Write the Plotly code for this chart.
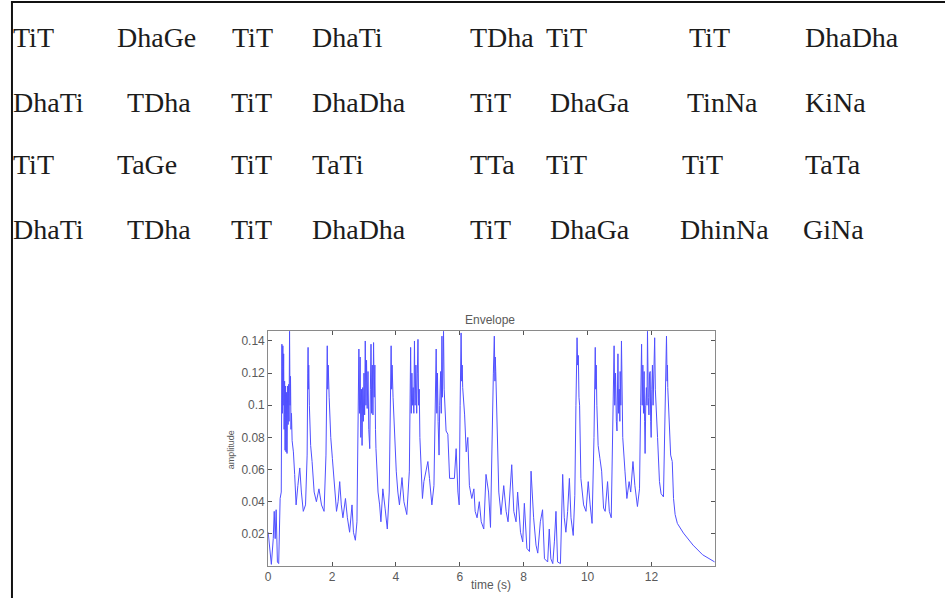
import plotly.graph_objects as go

# ---------------- data ----------------
bol_rows = [
    ["TiT", "DhaGe", "TiT", "DhaTi", "TDha", "TiT", "TiT", "DhaDha"],
    ["DhaTi", "TDha", "TiT", "DhaDha", "TiT", "DhaGa", "TinNa", "KiNa"],
    ["TiT", "TaGe", "TiT", "TaTi", "TTa", "TiT", "TiT", "TaTa"],
    ["DhaTi", "TDha", "TiT", "DhaDha", "TiT", "DhaGa", "DhinNa", "GiNa"],
]

time_s = [
    0.00, 0.05, 0.10, 0.16, 0.19, 0.22, 0.25, 0.29, 0.33, 0.375, 0.41,
    0.43, 0.445, 0.46, 0.47, 0.485, 0.50, 0.515, 0.53, 0.545, 0.56, 0.575, 0.59, 0.61, 0.625, 0.64, 0.655, 0.67, 0.685, 0.70, 0.715, 0.73, 0.75,
    0.79, 0.83, 0.875, 0.93, 0.99, 1.04, 1.10, 1.17, 1.22, 1.24, 1.25, 1.26, 1.27, 1.29,
    1.33, 1.375, 1.44, 1.51, 1.59, 1.67, 1.75, 1.81, 1.83, 1.85, 1.865, 1.88, 1.91,
    1.96, 2.01, 2.08, 2.14, 2.19, 2.24, 2.29, 2.34, 2.42, 2.48, 2.55, 2.625, 2.67, 2.73, 2.78, 2.81,
    2.84, 2.86, 2.88, 2.90, 2.92, 2.94, 2.96, 2.98, 3.00, 3.02, 3.04, 3.06, 3.08, 3.10, 3.125, 3.15, 3.18, 3.20, 3.22, 3.24, 3.26, 3.28, 3.30, 3.32, 3.34, 3.36, 3.375,
    3.44, 3.49, 3.53, 3.59, 3.66, 3.73, 3.79, 3.83, 3.85, 3.865, 3.88, 3.91,
    3.96, 4.01, 4.06, 4.11, 4.19, 4.25, 4.34, 4.42,
    4.46, 4.48, 4.50, 4.52, 4.54, 4.56, 4.58, 4.60, 4.625, 4.65, 4.67, 4.69, 4.71, 4.73, 4.75, 4.77,
    4.83, 4.875, 4.94, 5.00, 5.05, 5.125, 5.19,
    5.23, 5.26, 5.28, 5.30, 5.32, 5.35, 5.37, 5.40, 5.42, 5.44, 5.455, 5.47, 5.49, 5.51, 5.53, 5.55, 5.57,
    5.625, 5.68, 5.83, 5.885, 5.94, 5.98, 6.01, 6.03, 6.04, 6.06, 6.075, 6.09,
    6.15, 6.20, 6.25, 6.30, 6.375, 6.44, 6.48, 6.54, 6.61, 6.67, 6.75, 6.82, 6.90, 6.96, 7.01, 7.05, 7.08, 7.10, 7.11, 7.125,
    7.17, 7.22, 7.29, 7.375, 7.45, 7.51, 7.625, 7.69, 7.76, 7.81, 7.90, 7.97, 8.02, 8.10, 8.18, 8.23, 8.31, 8.385, 8.44, 8.52,
    8.59, 8.65, 8.75, 8.80, 8.85, 8.91, 8.96, 9.01, 9.06, 9.15, 9.22, 9.27, 9.32, 9.375, 9.43, 9.48, 9.55, 9.60, 9.635,
    9.65, 9.67, 9.69, 9.71, 9.73, 9.75, 9.79, 9.875, 9.95, 10.02, 10.08, 10.14, 10.20, 10.22, 10.24, 10.255, 10.27, 10.29,
    10.33, 10.385, 10.44, 10.50, 10.55, 10.625, 10.68, 10.74, 10.79,
    10.83, 10.85, 10.875, 10.90, 10.92, 10.95, 10.97, 10.99, 11.01, 11.02, 11.04, 11.06, 11.08, 11.10,
    11.17, 11.23, 11.30, 11.35, 11.42, 11.48, 11.56, 11.625,
    11.66, 11.69, 11.71, 11.73, 11.75, 11.77, 11.785, 11.80, 11.82, 11.84, 11.86, 11.875, 11.90, 11.92, 11.94, 11.96, 11.975, 11.99,
    12.01, 12.03, 12.05, 12.07, 12.10, 12.12, 12.15, 12.17, 12.19,
    12.25, 12.30, 12.375, 12.43, 12.45, 12.47, 12.49, 12.50, 12.51, 12.56, 12.60, 12.65, 12.69, 12.74, 12.81, 13.00, 13.30, 13.60, 13.80, 13.98,
]

amplitude = [
    0.021, 0.009, 0.001, 0.017, 0.034, 0.017, 0.035, 0.0025, 0.0015, 0.042, 0.046,
    0.138, 0.095, 0.137, 0.100, 0.132, 0.085, 0.115, 0.072, 0.112, 0.071, 0.108, 0.070, 0.112, 0.088, 0.113, 0.090, 0.146, 0.100, 0.118, 0.085, 0.095, 0.078,
    0.071, 0.057, 0.038, 0.050, 0.061, 0.046, 0.034, 0.038, 0.069, 0.120, 0.136, 0.110, 0.125, 0.100,
    0.075, 0.065, 0.046, 0.040, 0.048, 0.038, 0.034, 0.069, 0.120, 0.137, 0.110, 0.125, 0.105,
    0.080, 0.067, 0.046, 0.034, 0.040, 0.0525, 0.038, 0.030, 0.042, 0.030, 0.021, 0.038, 0.021, 0.016, 0.0275, 0.100,
    0.135, 0.095, 0.130, 0.080, 0.110, 0.075, 0.111, 0.090, 0.120, 0.094, 0.140, 0.100, 0.128, 0.098, 0.121, 0.085, 0.073, 0.110, 0.138, 0.095, 0.125, 0.094, 0.139, 0.105, 0.125, 0.085, 0.073,
    0.046, 0.038, 0.0275, 0.048, 0.036, 0.023, 0.046, 0.120, 0.137, 0.110, 0.125, 0.105,
    0.075, 0.059, 0.046, 0.038, 0.055, 0.040, 0.032, 0.059,
    0.136, 0.095, 0.120, 0.100, 0.111, 0.095, 0.140, 0.100, 0.125, 0.095, 0.120, 0.141, 0.100, 0.110, 0.080, 0.071,
    0.042, 0.0525, 0.059, 0.065, 0.0545, 0.038, 0.050,
    0.100, 0.135, 0.095, 0.120, 0.090, 0.069, 0.100, 0.121, 0.095, 0.143, 0.105, 0.125, 0.146, 0.110, 0.100, 0.088, 0.084,
    0.082, 0.0545, 0.0545, 0.073, 0.046, 0.038, 0.100, 0.135, 0.145, 0.115, 0.125, 0.111,
    0.094, 0.071, 0.080, 0.050, 0.042, 0.048, 0.034, 0.030, 0.040, 0.0275, 0.023, 0.057, 0.046, 0.024, 0.090, 0.120, 0.143, 0.115, 0.130, 0.121,
    0.080, 0.046, 0.032, 0.050, 0.034, 0.0275, 0.063, 0.034, 0.0275, 0.046, 0.021, 0.015, 0.039, 0.011, 0.009, 0.059, 0.030, 0.013, 0.008, 0.0275,
    0.035, 0.0045, 0.0025, 0.023, 0.0045, 0.0015, 0.015, 0.034, 0.0025, 0.0015, 0.057, 0.030, 0.021, 0.034, 0.0545, 0.030, 0.019, 0.044, 0.100,
    0.130, 0.142, 0.125, 0.131, 0.105, 0.100, 0.0545, 0.038, 0.034, 0.0525, 0.038, 0.0265, 0.080, 0.120, 0.136, 0.110, 0.125, 0.100,
    0.075, 0.067, 0.059, 0.036, 0.034, 0.0525, 0.034, 0.030, 0.080,
    0.137, 0.100, 0.120, 0.090, 0.084, 0.132, 0.095, 0.110, 0.090, 0.121, 0.100, 0.140, 0.100, 0.080,
    0.059, 0.042, 0.0525, 0.046, 0.065, 0.050, 0.037, 0.048,
    0.100, 0.138, 0.100, 0.125, 0.095, 0.121, 0.090, 0.070, 0.100, 0.111, 0.100, 0.146, 0.105, 0.094, 0.120, 0.121, 0.090, 0.080,
    0.110, 0.125, 0.100, 0.130, 0.142, 0.110, 0.100, 0.090, 0.080,
    0.0525, 0.045, 0.043, 0.100, 0.130, 0.143, 0.115, 0.125, 0.111, 0.084, 0.069, 0.065, 0.042, 0.032, 0.0265, 0.0205, 0.013, 0.007, 0.0045, 0.0025,
]
assert len(time_s) == len(amplitude)

x_tick_vals = [0, 2, 4, 6, 8, 10, 12]
x_tick_text = ["0", "2", "4", "6", "8", "10", "12"]
y_tick_vals = [0.02, 0.04, 0.06, 0.08, 0.10, 0.12, 0.14]
y_tick_text = ["0.02", "0.04", "0.06", "0.08", "0.1", "0.12", "0.14"]

# ---------------- layout constants ----------------
W, H = 945, 598
row_y_px = [38, 102, 165, 230]
row_x_px = [
    [8, 112, 228, 308, 466, 543, 686, 803],
    [8, 122, 227, 308, 466, 547, 684, 803],
    [8, 112, 227, 308, 466, 543, 679, 803],
    [8, 122, 227, 308, 466, 547, 677, 801],
]
plot_left, plot_right, plot_top, plot_bottom = 266, 714, 331, 566

fig = go.Figure()
fig.add_trace(go.Scatter(
    x=time_s, y=amplitude, mode="lines",
    line=dict(color="rgb(80,80,255)", width=1),
    showlegend=False, hoverinfo="skip",
))

annotations = []
for r, words in enumerate(bol_rows):
    for c, w in enumerate(words):
        annotations.append(dict(
            xref="paper", yref="paper",
            x=row_x_px[r][c] / W, y=1 - row_y_px[r] / H,
            xanchor="left", yanchor="middle", showarrow=False,
            text=w, font=dict(family="Liberation Serif", size=28, color="#1c1c1c"),
        ))

grey_font = dict(family="Liberation Sans", size=12, color="#5a5a5a")
annotations.append(dict(xref="paper", yref="paper", x=489 / W, y=1 - 320 / H,
                        text="Envelope", showarrow=False, xanchor="center",
                        yanchor="middle", font=grey_font))
annotations.append(dict(xref="paper", yref="paper", x=490 / W, y=1 - 585 / H,
                        text="time (s)", showarrow=False, xanchor="center",
                        yanchor="middle", font=grey_font))
annotations.append(dict(xref="paper", yref="paper", x=229 / W, y=1 - 450 / H,
                        text="amplitude", showarrow=False, textangle=-90,
                        xanchor="center", yanchor="middle",
                        font=dict(family="Liberation Sans", size=9, color="#5a5a5a")))

shapes = [
    dict(type="line", xref="paper", yref="paper", x0=8 / W, x1=1, y0=1 - 2 / H, y1=1 - 2 / H,
         line=dict(color="#111111", width=2)),
    dict(type="line", xref="paper", yref="paper", x0=9 / W, x1=9 / W, y0=0, y1=1 - 1 / H,
         line=dict(color="#111111", width=2)),
]

axis_common = dict(
    showline=True, linecolor="#8a8a8a", linewidth=1, mirror="allticks",
    ticks="inside", ticklen=4, tickcolor="#555555", showgrid=False, zeroline=False,
    tickfont=grey_font,
)

fig.update_layout(
    width=W, height=H, autosize=False,
    margin=dict(l=0, r=0, t=0, b=0),
    paper_bgcolor="white", plot_bgcolor="white",
    xaxis=dict(domain=[plot_left / W, plot_right / W], range=[0, 13.98],
               tickvals=x_tick_vals, ticktext=x_tick_text, **axis_common),
    yaxis=dict(domain=[1 - plot_bottom / H, 1 - plot_top / H], range=[0, 0.1462],
               tickvals=y_tick_vals, ticktext=y_tick_text, **axis_common),
    annotations=annotations, shapes=shapes,
)

fig.write_html("out.html", config={"displayModeBar": False},
               post_script="document.body.style.margin='0px';document.body.style.overflow='hidden';")
